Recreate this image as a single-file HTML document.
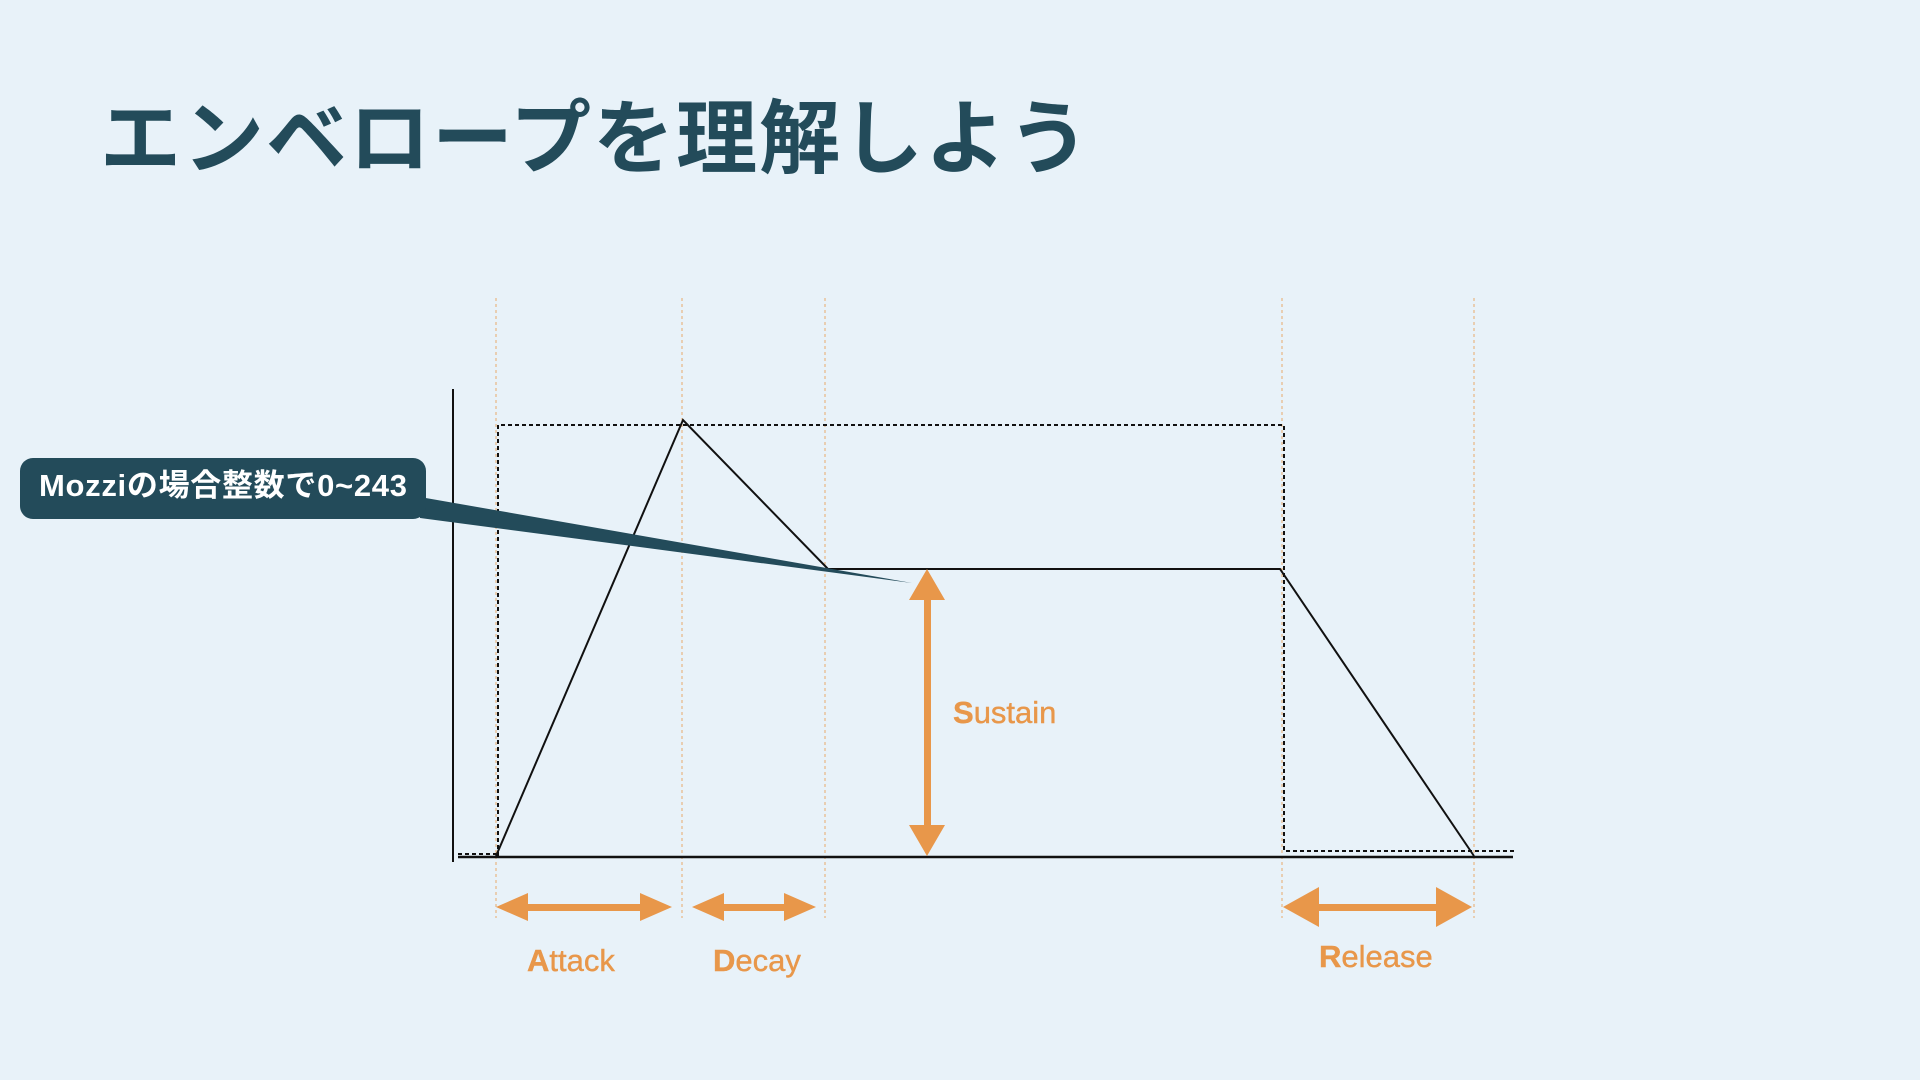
<!DOCTYPE html>
<html><head><meta charset="utf-8"><style>
html,body{margin:0;padding:0;}
body{width:1920px;height:1080px;background:#E8F2F9;position:relative;overflow:hidden;font-family:"Liberation Sans","Noto Sans CJK JP",sans-serif;}
.title{position:absolute;left:100px;top:92px;font-size:81px;line-height:1;font-weight:bold;color:#234B5A;font-family:"Noto Sans CJK JP",sans-serif;letter-spacing:2px;white-space:nowrap;}
.lbl{position:absolute;color:#E8974A;font-size:31px;line-height:1;white-space:nowrap;font-family:"Liberation Sans",sans-serif;-webkit-text-stroke:0.4px #E8974A;}
.lbl b{font-weight:bold;}
.box{position:absolute;left:20px;top:458px;width:406px;height:61px;background:#234B5A;border-radius:13px;color:#fff;font-weight:bold;font-size:31px;line-height:1;}
.box span{position:absolute;left:19px;top:12px;white-space:nowrap;font-family:"Liberation Sans","Noto Sans CJK JP",sans-serif;letter-spacing:0.7px;}
svg{position:absolute;left:0;top:0;}
</style></head><body>
<div class="title">エンベロープを理解しよう</div>
<svg width="1920" height="1080" viewBox="0 0 1920 1080">
  <g stroke="#E8974A" stroke-width="1" stroke-dasharray="3,3" opacity="0.8">
    <line x1="496" y1="298" x2="496" y2="918"/>
    <line x1="682" y1="298" x2="682" y2="918"/>
    <line x1="825" y1="298" x2="825" y2="918"/>
    <line x1="1282" y1="298" x2="1282" y2="918"/>
    <line x1="1474" y1="298" x2="1474" y2="918"/>
  </g>
  <g stroke="#111" stroke-width="2" stroke-dasharray="4,3" fill="none">
    <polyline points="498,856 498,425 1284,425 1284,851 1515,851"/>
    <line x1="458" y1="854" x2="496" y2="854"/>
  </g>
  <line x1="453" y1="389" x2="453" y2="862" stroke="#111" stroke-width="2"/>
  <line x1="458" y1="857" x2="1513" y2="857" stroke="#111" stroke-width="2.5"/>
  <polyline points="496,856 683,420 828,569 1280,569 1474,856" fill="none" stroke="#111" stroke-width="2"/>
  <polygon points="420,497 912,583 420,518" fill="#234B5A"/>
  <g fill="#E8974A" stroke="none">
    <rect x="924" y="598" width="7" height="232"/>
    <polygon points="927,569 945,600 909,600"/>
    <polygon points="927,856 945,825 909,825"/>
    <rect x="525" y="904" width="120" height="7"/>
    <polygon points="496,907 528,893 528,921"/>
    <polygon points="672,907 640,893 640,921"/>
    <rect x="715" y="904" width="80" height="7"/>
    <polygon points="692,907 724,893 724,921"/>
    <polygon points="816,907 784,893 784,921"/>
    <rect x="1312" y="904" width="130" height="7"/>
    <polygon points="1283,907 1319,887 1319,927"/>
    <polygon points="1472,907 1436,887 1436,927"/>
  </g>
</svg>
<div class="box"><span>Mozziの場合整数で0~243</span></div>
<div class="lbl" style="left:953px;top:697px;"><b>S</b>ustain</div>
<div class="lbl" style="left:527px;top:945px;"><b>A</b>ttack</div>
<div class="lbl" style="left:713px;top:945px;"><b>D</b>ecay</div>
<div class="lbl" style="left:1319px;top:941px;"><b>R</b>elease</div>
</body></html>
